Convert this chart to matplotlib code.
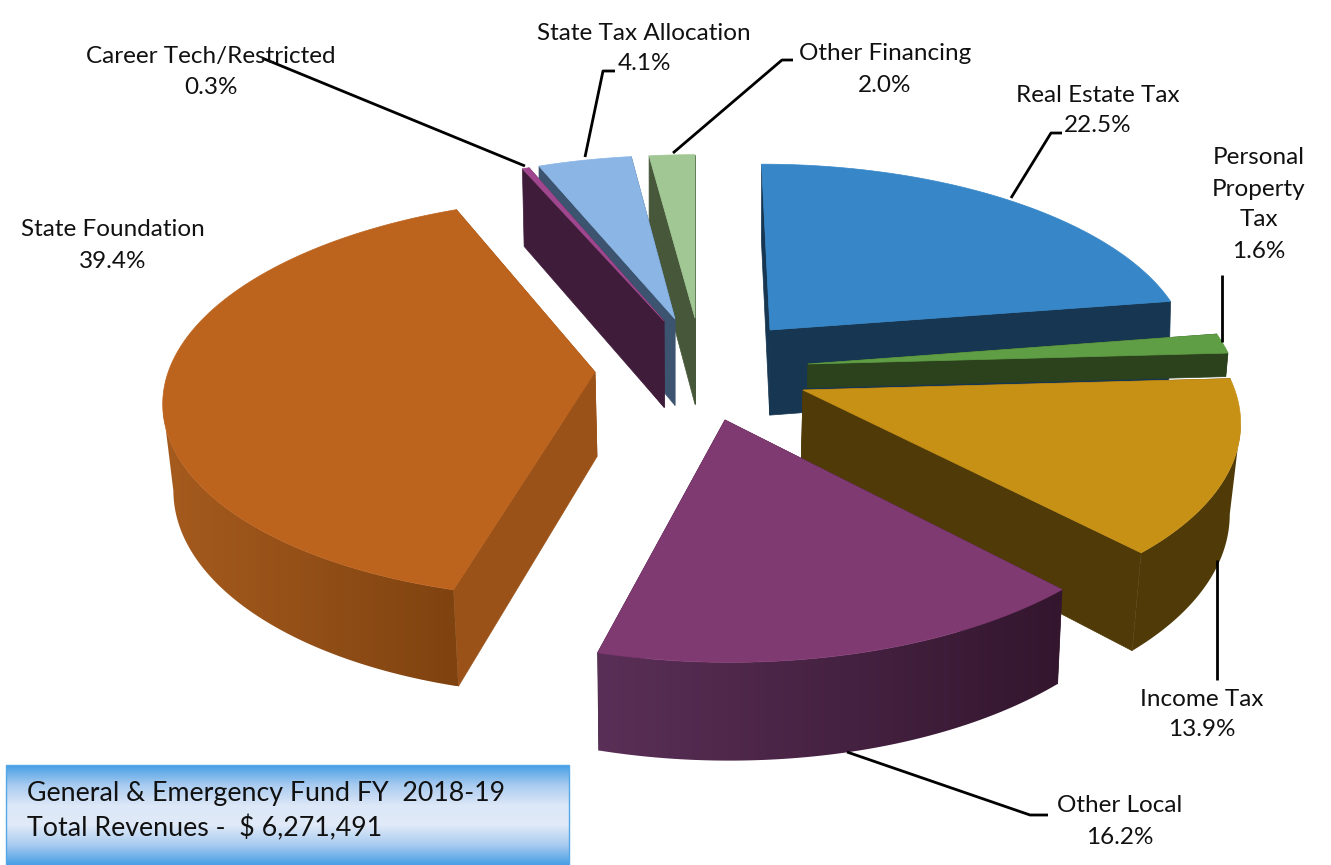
import numpy as np
import matplotlib
matplotlib.use("Agg")
import matplotlib.pyplot as plt
from matplotlib.colors import LinearSegmentedColormap
from matplotlib.patches import Polygon, Rectangle

NAMES = ["Real Estate Tax", "Personal Property Tax", "Income Tax", "Other Local",
         "State Foundation", "Career Tech/Restricted", "State Tax Allocation", "Other Financing"]
VALUES = [22.5, 1.6, 13.9, 16.2, 39.4, 0.3, 4.1, 2.0]

# exploded apex of each slice, in image pixels
APEX = [(770, 330), (808, 364), (803, 390), (725, 420), (595, 372), (664, 321), (675, 319), (695, 318)]
TOP = ["#3787C8", "#5F9E45", "#C79116", "#803A72", "#BC631E", "#A0478F", "#8AB5E5", "#A0C794"]
WALL = ["#163652", "#2B421D", "#503B08", "#33162E", "#9A5219", "#3F1D3A", "#3C5470", "#47583A"]
RIM_L = ["#163652", "#2B421D", "#503B08", "#5A2F57", "#A65B1E", "#3F1D3A", "#3C5470", "#47583A"]
RIM_R = ["#163652", "#2B421D", "#503B08", "#33162E", "#7F4310", "#3F1D3A", "#3C5470", "#47583A"]
DRAW_ORDER = [7, 6, 5, 0, 1, 2, 3, 4]

# ground plane projection
X0, Y0 = 695.0, 380.0
R = 429.0
K = 0.465
P = 0.13
DEPTH = [88, 24, 88, 83, 85, 90, 90, 90]
# how much the bottom edge pulls in toward the centre line
TAPER = [0.004, 0.004, 0.02, 0.012, 0.02, 0.01, 0.0, 0.0]

# label text: (text, centre x, centre y)
LABELS = [
    ("Real Estate Tax", 1098, 95), ("22.5%", 1098, 126),
    ("Personal", 1259, 158), ("Property", 1259, 190), ("Tax", 1259, 220), ("1.6%", 1259, 252),
    ("Income Tax", 1202, 699), ("13.9%", 1202, 730),
    ("Other Local", 1120, 806), ("16.2%", 1120, 837),
    ("State Foundation", 113, 230), ("39.4%", 113, 261),
    ("Career Tech/Restricted", 211, 56), ("0.3%", 211, 87),
    ("State Tax Allocation", 644, 33), ("4.1%", 644, 64),
    ("Other Financing", 885, 54), ("2.0%", 885, 85),
]
LEADERS = [
    [(1011, 198), (1051, 133), (1062, 133)],
    [(1222, 275), (1222, 342)],
    [(1217, 560), (1217, 680)],
    [(847, 752), (1030, 815), (1048, 815)],
    [(525, 166), (262, 58)],
    [(585, 157), (603, 71), (615, 71)],
    [(673, 153), (782, 60), (793, 60)],
]
BOX_LINES = ["General & Emergency Fund FY  2018-19", "Total Revenues -  $ 6,271,491"]


def project(x, y):
    s = 1 / (1 + P * y / R)
    return X0 + x * s, Y0 - K * y * s, s


def unproject(sx, sy):
    ys = (Y0 - sy) / K
    y = ys / (1 - P * ys / R)
    s = 1 / (1 + P * y / R)
    return (sx - X0) / s, y


def slice_rim(apex, a0, a1):
    ex, ey = unproject(*apex)
    t = np.radians(np.linspace(a0, a1, max(int(a1 - a0) * 2, 4)))
    return (*project(ex + R * np.sin(t), ey + R * np.cos(t)), t)


def drop(x, y, s, i):
    return X0 + (x - X0) * (1 - TAPER[i]), y + DEPTH[i] * s


def face(ax, pts, color, z):
    ax.add_patch(Polygon(pts, closed=True, facecolor=color, edgecolor=color, linewidth=0.5, zorder=z))


def rim_face(ax, sx, sy, s, t, i, z):
    # keep the viewer-facing arc and stop at its left/right extremes, past those
    # the outline folds over itself and cancels out in the clip path
    front = np.cos(t) < 0.1
    if front.sum() < 2:
        return
    sx, sy, s = sx[front], sy[front], s[front]
    a, b = sorted((int(np.argmin(sx)), int(np.argmax(sx))))
    sx, sy, s = sx[a:b + 1], sy[a:b + 1], s[a:b + 1]
    bx, by = drop(sx, sy, s, i)
    outline = Polygon(list(zip(sx, sy)) + list(zip(bx, by))[::-1], closed=True, facecolor=RIM_L[i],
                      edgecolor="none", transform=ax.transData)
    cmap = LinearSegmentedColormap.from_list(f"rim{i}", [RIM_L[i], RIM_R[i]])
    grad = np.linspace(0, 1, 200).reshape(1, -1)
    im = ax.imshow(grad, cmap=cmap, aspect="auto", zorder=z, interpolation="bilinear",
                   extent=(min(sx.min(), bx.min()), max(sx.max(), bx.max()), by.max(), sy.min()))
    im.set_clip_path(outline)


def main():
    fig = plt.figure(figsize=(13.31, 8.65), dpi=100, facecolor="white")
    ax = fig.add_axes([0, 0, 1, 1])

    ends = np.cumsum(VALUES) / sum(VALUES) * 360
    starts = np.concatenate([[0], ends[:-1]])

    for z, i in enumerate(DRAW_ORDER):
        sx, sy, s, t = slice_rim(APEX[i], starts[i], ends[i])
        px, py = APEX[i]
        _, _, s_apex = project(*unproject(px, py))
        base = z + 2

        # radial walls, then rim, then the top face over them
        for k in (0, -1):
            face(ax, [(px, py), (sx[k], sy[k]), drop(sx[k], sy[k], s[k], i),
                      drop(px, py, s_apex, i)], WALL[i], base)
        rim_face(ax, sx, sy, s, t, i, base)
        face(ax, [(px, py)] + list(zip(sx, sy)), TOP[i], base)

    for line in LEADERS:
        xs, ys = zip(*line)
        ax.plot(xs, ys, color="black", linewidth=2.0, solid_capstyle="butt", zorder=30)

    for text, x, y in LABELS:
        ax.text(x, y, text, ha="center", va="center", fontsize=17.5, family="Lato", color="#111111", zorder=31)

    # caption box with vertical blue-white-blue gradient
    cmap = LinearSegmentedColormap.from_list("box", ["#489FE5", "#A9CBF0", "#DCE7F7", "#E0EAF8", "#A9CBF0", "#489FE5"])
    grad = np.linspace(0, 1, 200).reshape(-1, 1)
    ax.imshow(grad, cmap=cmap, extent=(6, 569, 865, 765), aspect="auto", zorder=32)
    ax.add_patch(Rectangle((6, 765), 563, 100, facecolor="none", edgecolor="#55A8E8", linewidth=1, zorder=32))
    for line, y in zip(BOX_LINES, (794, 828)):
        ax.text(27, y, line, ha="left", va="center", fontsize=19.3, family="Lato", color="#111111", zorder=33)

    ax.set_xlim(0, 1331)
    ax.set_ylim(865, 0)
    ax.axis("off")

    fig.savefig("out.png", dpi=100, facecolor="white")
    plt.close(fig)


if __name__ == "__main__":
    main()
